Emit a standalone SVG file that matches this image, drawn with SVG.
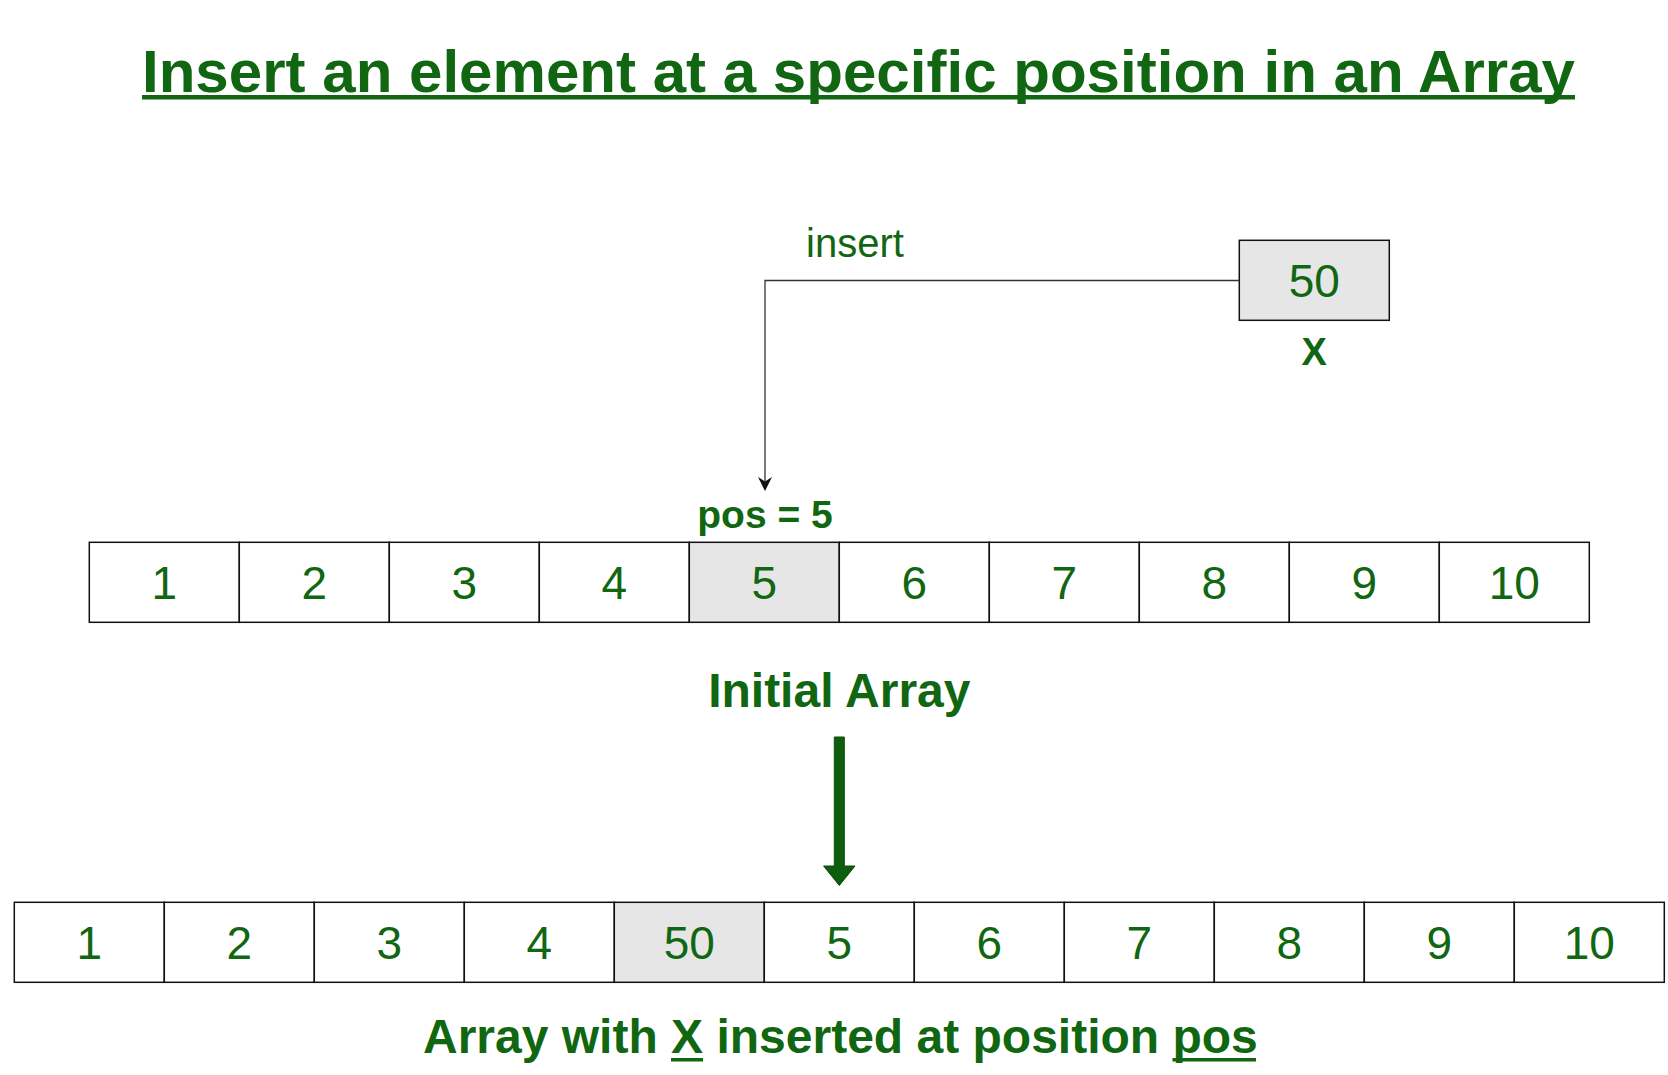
<svg xmlns="http://www.w3.org/2000/svg" width="1668" height="1075" viewBox="0 0 1668 1075">
<style>
.cell{fill:#ffffff;stroke:#111;stroke-width:1.5}
.hl{fill:#e6e6e6;stroke:#111;stroke-width:1.5}
.num{font-family:"Liberation Sans",Arial,sans-serif;font-size:46px;fill:#116611;text-anchor:middle}
.bold{font-family:"Liberation Sans",Arial,sans-serif;font-weight:bold;fill:#116611}
.conn{fill:none;stroke:#333;stroke-width:1.3}
</style>
<rect width="1668" height="1075" fill="#ffffff"/>
<g id="title">
<text class="bold" x="142" y="92" font-size="60" textLength="1433" lengthAdjust="spacingAndGlyphs">Insert an element at a specific position in an Array</text>
<rect x="142" y="95" width="1433" height="4.5" fill="#116611"/>
</g>
<g id="node-x">
<rect class="hl" x="1239.3" y="240.3" width="150" height="80"/>
<text class="num" x="1314.3" y="296.5">50</text>
<text class="bold" x="1314.3" y="365" font-size="38" text-anchor="middle">X</text>
</g>
<g id="connectors">
<path class="conn" d="M1239.3,280.5 H765 V482"/>
<path d="M758,477 L765,491 L772,477 L765,481.5 Z" fill="#111"/>
<path d="M834.3,737 H844.3 V866 H855 L839.3,885.5 L823.6,866 H834.3 Z" fill="#0c5e0c" stroke="#0a4a0a" stroke-width="1"/>
</g>
<g id="label-insert">
<text x="806" y="257" font-family="'Liberation Sans',Arial,sans-serif" font-size="40" fill="#116611">insert</text>
</g>
<g id="label-pos">
<text class="bold" x="765" y="528" font-size="39" text-anchor="middle">pos = 5</text>
</g>
<g id="initial-array">
<rect class="cell" x="89.3" y="542.3" width="150" height="80"/>
<rect class="cell" x="239.3" y="542.3" width="150" height="80"/>
<rect class="cell" x="389.3" y="542.3" width="150" height="80"/>
<rect class="cell" x="539.3" y="542.3" width="150" height="80"/>
<rect class="hl" x="689.3" y="542.3" width="150" height="80"/>
<rect class="cell" x="839.3" y="542.3" width="150" height="80"/>
<rect class="cell" x="989.3" y="542.3" width="150" height="80"/>
<rect class="cell" x="1139.3" y="542.3" width="150" height="80"/>
<rect class="cell" x="1289.3" y="542.3" width="150" height="80"/>
<rect class="cell" x="1439.3" y="542.3" width="150" height="80"/>
<text class="num" x="164.3" y="598.5">1</text>
<text class="num" x="314.3" y="598.5">2</text>
<text class="num" x="464.3" y="598.5">3</text>
<text class="num" x="614.3" y="598.5">4</text>
<text class="num" x="764.3" y="598.5">5</text>
<text class="num" x="914.3" y="598.5">6</text>
<text class="num" x="1064.3" y="598.5">7</text>
<text class="num" x="1214.3" y="598.5">8</text>
<text class="num" x="1364.3" y="598.5">9</text>
<text class="num" x="1514.3" y="598.5">10</text>
</g>
<g id="label-initial">
<text class="bold" x="839.3" y="707" font-size="48" text-anchor="middle">Initial Array</text>
</g>
<g id="result-array">
<rect class="cell" x="14.3" y="902.3" width="150" height="80"/>
<rect class="cell" x="164.3" y="902.3" width="150" height="80"/>
<rect class="cell" x="314.3" y="902.3" width="150" height="80"/>
<rect class="cell" x="464.3" y="902.3" width="150" height="80"/>
<rect class="hl" x="614.3" y="902.3" width="150" height="80"/>
<rect class="cell" x="764.3" y="902.3" width="150" height="80"/>
<rect class="cell" x="914.3" y="902.3" width="150" height="80"/>
<rect class="cell" x="1064.3" y="902.3" width="150" height="80"/>
<rect class="cell" x="1214.3" y="902.3" width="150" height="80"/>
<rect class="cell" x="1364.3" y="902.3" width="150" height="80"/>
<rect class="cell" x="1514.3" y="902.3" width="150" height="80"/>
<text class="num" x="89.3" y="958.5">1</text>
<text class="num" x="239.3" y="958.5">2</text>
<text class="num" x="389.3" y="958.5">3</text>
<text class="num" x="539.3" y="958.5">4</text>
<text class="num" x="689.3" y="958.5">50</text>
<text class="num" x="839.3" y="958.5">5</text>
<text class="num" x="989.3" y="958.5">6</text>
<text class="num" x="1139.3" y="958.5">7</text>
<text class="num" x="1289.3" y="958.5">8</text>
<text class="num" x="1439.3" y="958.5">9</text>
<text class="num" x="1589.3" y="958.5">10</text>
</g>
<g id="label-result">
<text class="bold" x="423" y="1053" font-size="48">Array with X inserted at position pos</text>
<rect x="671" y="1058" width="32" height="3.5" fill="#116611"/>
<rect x="1172.5" y="1058" width="83.5" height="3.5" fill="#116611"/>
</g>
</svg>
